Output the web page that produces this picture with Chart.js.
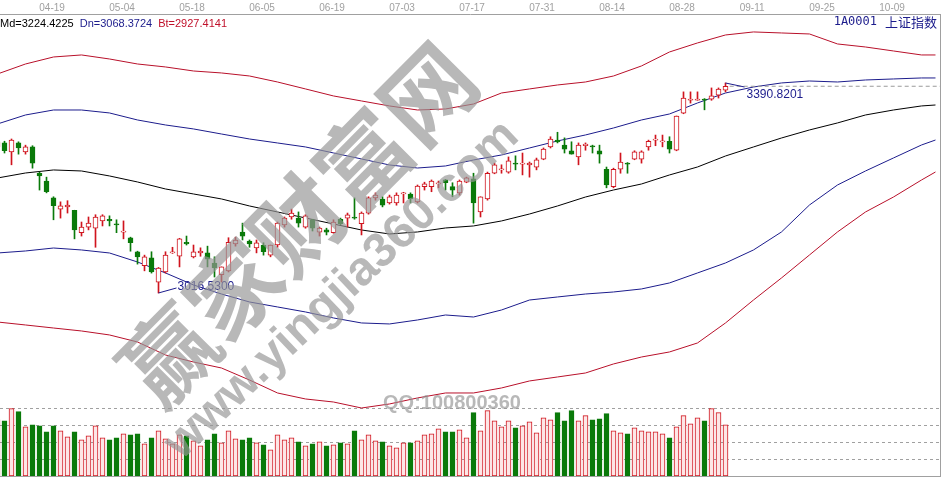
<!DOCTYPE html>
<html>
<head>
<meta charset="utf-8">
<script src="https://cdn.jsdelivr.net/npm/chart.js@4.4.0/dist/chart.umd.min.js"></script>
<style>
html, body { margin: 0; padding: 0; background: #fff; }
#wrap { width: 943px; height: 478px; }
</style>
</head>
<body>
<div id="wrap"><canvas id="kline" width="943" height="478"></canvas></div>
<script>
// 上证指数 日K线 + 通道线 + 成交量

// 顶部日期刻度
var dateLabels = ['04-19', '05-04', '05-18', '06-05', '06-19', '07-03', '07-17', '07-31', '08-14', '08-28', '09-11', '09-25', '10-09'];
var dateIdx = [8, 18, 28, 38, 48, 58, 68, 78, 88, 98, 108, 118, 128];

// K线 (开 高 低 收)
var open = [
    3277, 3284, 3268, 3284, 3268, 3277, 3230, 3216, 3186, 3166,
    3170, 3164, 3124, 3134, 3132, 3145, 3148, 3140, 3125, 3115,
    3090, 3065, 3079, 3036, 3054, 3088, 3082, 3107, 3081, 3088,
    3088, 3070, 3049, 3056, 3104, 3125, 3109, 3097, 3102, 3084,
    3102, 3138, 3152, 3150, 3134, 3147, 3125, 3129, 3124, 3148,
    3150, 3152, 3140, 3159, 3186, 3184, 3177, 3177, 3193, 3193,
    3179, 3206, 3206, 3211, 3218, 3206, 3195, 3214, 3220, 3161,
    3184, 3230, 3236, 3232, 3248, 3246, 3245, 3241, 3255, 3277,
    3289, 3280, 3270, 3259, 3279, 3279, 3270, 3237, 3206, 3237,
    3248, 3255, 3255, 3277, 3289, 3286, 3287, 3271, 3337, 3360,
    3360, 3362, 3362, 3369, 3378
];
var high = [
    3289, 3287, 3291, 3286, 3280, 3279, 3232, 3223, 3188, 3179,
    3181, 3164, 3143, 3152, 3156, 3156, 3154, 3147, 3145, 3116,
    3091, 3084, 3090, 3062, 3090, 3098, 3114, 3118, 3102, 3097,
    3100, 3081, 3063, 3115, 3116, 3141, 3111, 3111, 3106, 3102,
    3143, 3152, 3166, 3161, 3156, 3148, 3134, 3132, 3147, 3150,
    3159, 3186, 3161, 3188, 3195, 3188, 3191, 3195, 3196, 3195,
    3209, 3214, 3218, 3216, 3219, 3213, 3218, 3223, 3230, 3188,
    3232, 3248, 3245, 3259, 3261, 3266, 3250, 3257, 3275, 3295,
    3303, 3293, 3286, 3284, 3284, 3280, 3280, 3241, 3239, 3266,
    3249, 3270, 3270, 3289, 3298, 3298, 3295, 3332, 3375, 3375,
    3375, 3363, 3382, 3382, 3390.8201
];
var low = [
    3271, 3266, 3245, 3264, 3264, 3239, 3200, 3195, 3147, 3150,
    3159, 3113, 3118, 3129, 3098, 3136, 3136, 3124, 3113, 3091,
    3068, 3056, 3052, 3016.53, 3052, 3087, 3063, 3102, 3079, 3082,
    3063, 3045, 3036, 3054, 3100, 3111, 3098, 3088, 3084, 3081,
    3098, 3134, 3148, 3134, 3132, 3127, 3118, 3120, 3123, 3138,
    3134, 3148, 3120, 3157, 3182, 3170, 3175, 3173, 3177, 3177,
    3177, 3200, 3197, 3204, 3200, 3188, 3191, 3213, 3141, 3152,
    3182, 3229, 3230, 3230, 3236, 3227, 3223, 3236, 3254, 3275,
    3284, 3266, 3264, 3245, 3271, 3266, 3248, 3204, 3204, 3230,
    3230, 3254, 3248, 3271, 3279, 3277, 3266, 3270, 3336, 3355,
    3360, 3343, 3360, 3364, 3375
];
var close = [
    3286, 3270, 3289, 3275, 3277, 3248, 3225, 3197, 3172, 3172,
    3173, 3129, 3134, 3141, 3152, 3154, 3145, 3138, 3127, 3106,
    3081, 3081, 3054, 3061, 3084, 3090, 3113, 3104, 3090, 3091,
    3077, 3061, 3063, 3107, 3111, 3118, 3104, 3106, 3090, 3102,
    3141, 3150, 3159, 3141, 3154, 3132, 3132, 3125, 3143, 3140,
    3156, 3150, 3159, 3186, 3191, 3173, 3188, 3191, 3195, 3184,
    3207, 3211, 3216, 3213, 3213, 3200, 3216, 3222, 3177, 3188,
    3230, 3245, 3237, 3252, 3246, 3248, 3248, 3254, 3273, 3291,
    3286, 3273, 3264, 3280, 3282, 3277, 3264, 3209, 3237, 3250,
    3246, 3268, 3268, 3287, 3291, 3287, 3273, 3332, 3364, 3362,
    3362, 3360, 3368, 3380, 3385
];

// 成交量
var volume = [
    1680, 1650, 2010, 1920, 1470, 1530, 1500, 1320, 1500, 1350,
    1170, 1320, 1080, 1200, 1500, 1140, 1080, 1140, 1260, 1230,
    1260, 960, 1140, 1350, 1110, 960, 1230, 1200, 1050, 900,
    1080, 1260, 990, 1350, 1110, 1080, 1140, 990, 930, 780,
    1230, 1080, 1140, 1020, 900, 960, 1020, 900, 930, 990,
    960, 1350, 1080, 1230, 1050, 1020, 900, 840, 990, 990,
    1050, 1230, 1260, 1410, 1320, 1320, 1380, 1140, 1890, 1350,
    1950, 1650, 1470, 1650, 1440, 1500, 1620, 1290, 1740, 1680,
    1890, 1650, 1950, 1650, 1800, 1680, 1710, 1860, 1350, 1290,
    1260, 1440, 1350, 1320, 1320, 1260, 1140, 1470, 1800, 1560,
    1740, 1650, 2010, 1890, 1530
];
var volGrid = [500, 1000, 1500, 2000];

// 通道线 (向右延伸)
var bandX = [0, 4, 8, 12, 16, 20, 24, 28, 32, 36, 40, 44, 48, 52, 56, 60, 64, 68, 72, 76, 80, 84, 88, 92, 96, 100, 104, 108, 112, 116, 120, 124, 128, 132, 134];
var upper2 = [3406.9, 3424.7, 3437.2, 3440.8, 3433.6, 3424.7, 3419.4, 3412.2, 3408.7, 3403.3, 3392.6, 3380.2, 3367.7, 3358.8, 3349.9, 3342.7, 3344.5, 3353.4, 3373.0, 3380.2, 3387.3, 3392.6, 3403.3, 3421.2, 3446.1, 3462.2, 3476.4, 3481.8, 3480.0, 3478.2, 3460.4, 3455.0, 3447.9, 3440.8, 3440.8];
var upper1 = [3317.8, 3333.8, 3342.7, 3342.7, 3337.4, 3324.9, 3316.0, 3308.9, 3299.9, 3291.0, 3283.9, 3276.8, 3266.1, 3255.4, 3244.7, 3239.3, 3242.9, 3253.6, 3262.5, 3275.0, 3287.5, 3298.2, 3310.6, 3324.9, 3335.6, 3355.2, 3373.0, 3383.7, 3390.9, 3394.4, 3392.6, 3396.2, 3398.0, 3399.8, 3399.8];
var middle = [3221.5, 3230.4, 3235.8, 3234.0, 3225.1, 3214.4, 3201.9, 3193.0, 3184.1, 3171.6, 3160.9, 3150.2, 3139.5, 3128.8, 3121.7, 3125.3, 3132.4, 3136.0, 3144.9, 3157.3, 3171.6, 3187.6, 3200.1, 3210.8, 3226.9, 3241.1, 3260.7, 3276.8, 3292.8, 3307.1, 3319.6, 3333.8, 3342.7, 3349.9, 3351.6];
var lower1 = [3087.8, 3091.4, 3096.7, 3093.2, 3087.8, 3071.8, 3052.2, 3030.8, 3014.7, 3000.5, 2991.6, 2982.7, 2972.0, 2963.1, 2961.3, 2968.4, 2977.3, 2973.7, 2986.2, 3004.0, 3009.4, 3014.7, 3018.3, 3023.7, 3034.4, 3052.2, 3070.0, 3093.2, 3125.3, 3173.4, 3209.0, 3234.0, 3257.2, 3280.3, 3289.2];
var lower2 = [2964.8, 2959.5, 2954.1, 2948.8, 2941.7, 2929.2, 2906.0, 2893.5, 2882.8, 2861.4, 2838.3, 2827.6, 2822.2, 2811.5, 2818.7, 2829.4, 2838.3, 2838.3, 2847.2, 2859.7, 2866.8, 2873.9, 2890.0, 2902.4, 2911.4, 2927.4, 2963.1, 3004.0, 3043.3, 3084.3, 3125.3, 3160.9, 3187.6, 3217.9, 3232.2];

// 标题文字
var infoItems = [
    { text: 'Md=3224.4225', color: '#000000' },
    { text: 'Dn=3068.3724', color: '#1c1c8c' },
    { text: 'Bt=2927.4141', color: '#c0102a' }
];
var stockCode = '1A0001';
var stockName = '上证指数';

// 颜色
var RED = '#d0141e';
var GREEN = '#0a7a0a';
var NAVY = '#1c1c8c';

var isUp = close.map(function (c, k) { return c >= open[k]; });

function pts(xs, ys) {
    return xs.map(function (x, j) { return { x: x, y: ys[j] }; });
}
function idxPts(ys) {
    return ys.map(function (y, k) { return { x: k, y: y }; });
}

var lastK = close.length - 1;
var xMin = 0.357, xMax = 134.643;

// 叠加文字: 标题, 最高/最低标注
var overlayPlugin = {
    id: 'overlay',
    afterDatasetsDraw: function (chart) {
        var ctx = chart.ctx;
        var xs = chart.scales.x, ys = chart.scales.y;
        ctx.save();
        ctx.font = '11px "Liberation Sans", Arial, sans-serif';
        ctx.textBaseline = 'middle';
        ctx.textAlign = 'left';
        var tx = 0;
        infoItems.forEach(function (it) {
            ctx.fillStyle = it.color;
            ctx.fillText(it.text, tx, 24);
            tx += ctx.measureText(it.text).width + 6;
        });

        ctx.textAlign = 'right';
        ctx.fillStyle = NAVY;
        ctx.font = '13px "Noto Sans CJK SC", sans-serif';
        var nameW = ctx.measureText(stockName).width;
        ctx.fillText(stockName, 937, 22);
        ctx.font = '12px "DejaVu Sans Mono", monospace';
        ctx.fillText(stockCode, 937 - nameW - 8, 22);

        // 最低点 / 最高点
        var kMin = 0, kMax = 0;
        low.forEach(function (v, k) { if (v < low[kMin]) kMin = k; });
        high.forEach(function (v, k) { if (v > high[kMax]) kMax = k; });
        ctx.strokeStyle = NAVY;
        ctx.fillStyle = NAVY;
        ctx.lineWidth = 1;
        ctx.font = '12px "Liberation Sans", Arial, sans-serif';
        ctx.textAlign = 'left';

        var px = xs.getPixelForValue(kMin), py = ys.getPixelForValue(low[kMin]);
        ctx.beginPath();
        ctx.moveTo(px, py);
        ctx.lineTo(px + 18, py - 5);
        ctx.stroke();
        ctx.fillText(low[kMin].toFixed(4), px + 19, py - 6);

        px = xs.getPixelForValue(kMax); py = ys.getPixelForValue(high[kMax]);
        ctx.beginPath();
        ctx.moveTo(px, py);
        ctx.lineTo(px + 19, py + 4);
        ctx.stroke();
        ctx.fillText(high[kMax].toFixed(4), px + 21, py + 12);
        ctx.restore();
    },
    afterDraw: function (chart) {
        // 水印
        var ctx = chart.ctx;
        ctx.save();
        ctx.fillStyle = 'rgba(150,150,150,0.68)';
        ctx.textAlign = 'center';
        ctx.textBaseline = 'middle';

        ctx.save();
        ctx.translate(298, 224);
        ctx.rotate(-0.79);
        ctx.font = 'bold 92px "Noto Sans CJK SC", sans-serif';
        ctx.fillText('赢家财富网', 0, 0);
        ctx.restore();

        ctx.save();
        ctx.translate(342, 290);
        ctx.rotate(-0.76);
        ctx.font = 'bold 48px "Liberation Sans", Arial, sans-serif';
        ctx.fillText('www.yingjia360.com', 0, 0);
        ctx.restore();

        ctx.font = 'bold 20px "Liberation Sans", Arial, sans-serif';
        ctx.fillText('QQ:100800360', 452, 403);
        ctx.restore();
    }
};

var bandStyle = function (label, data, color) {
    return {
        type: 'line',
        label: label,
        data: pts(bandX, data),
        yAxisID: 'y',
        borderColor: color,
        borderWidth: 1,
        pointRadius: 0,
        tension: 0,
        fill: false,
        order: 4
    };
};

var klineChart = new Chart(document.getElementById('kline'), {
    type: 'bar',
    data: {
        datasets: [
            {
                label: '成交量',
                data: idxPts(volume),
                yAxisID: 'yv',
                backgroundColor: isUp.map(function (u) { return u ? '#fde6e6' : GREEN; }),
                borderColor: isUp.map(function (u) { return u ? RED : GREEN; }),
                borderWidth: 1,
                borderSkipped: false,
                barThickness: 5,
                grouped: false,
                order: 5
            },
            bandStyle('上轨2', upper2, '#b8102a'),
            bandStyle('上轨1', upper1, NAVY),
            bandStyle('中轨', middle, '#000000'),
            bandStyle('下轨1', lower1, NAVY),
            bandStyle('下轨2', lower2, '#b8102a'),
            {
                type: 'line',
                label: '现价',
                data: [{ x: lastK + 0.6, y: close[lastK] }, { x: xMax, y: close[lastK] }],
                yAxisID: 'y',
                borderColor: '#9a9a9a',
                borderWidth: 1,
                borderDash: [4, 3],
                pointRadius: 0,
                order: 3
            },
            {
                label: '影线',
                data: low.map(function (l, k) { return { x: k, y: [l, high[k]] }; }),
                yAxisID: 'y',
                backgroundColor: isUp.map(function (u) { return u ? RED : GREEN; }),
                borderWidth: 0,
                barThickness: 1,
                grouped: false,
                order: 2
            },
            {
                label: 'K线',
                data: open.map(function (o, k) { return { x: k, y: [o, close[k]] }; }),
                yAxisID: 'y',
                backgroundColor: isUp.map(function (u) { return u ? '#ffffff' : GREEN; }),
                borderColor: isUp.map(function (u) { return u ? RED : GREEN; }),
                borderWidth: 1,
                borderSkipped: false,
                barThickness: 5,
                minBarLength: 1,
                grouped: false,
                order: 1
            }
        ]
    },
    options: {
        responsive: false,
        animation: false,
        devicePixelRatio: 1,
        layout: { padding: { left: 0, right: 0, top: 0, bottom: 0 } },
        plugins: {
            legend: { display: false },
            tooltip: { enabled: false }
        },
        scales: {
            x: {
                type: 'linear',
                position: 'top',
                min: xMin,
                max: xMax,
                offset: false,
                afterBuildTicks: function (s) {
                    s.ticks = dateIdx.map(function (v) { return { value: v - 0.2 }; });
                },
                afterFit: function (s) { s.height = 14; },
                ticks: {
                    autoSkip: false,
                    maxRotation: 0,
                    padding: 0,
                    color: '#a0a0a0',
                    font: { size: 10, family: '"Liberation Sans Narrow", "Liberation Sans", Arial, sans-serif' },
                    callback: function (v, i) { return dateLabels[i]; }
                },
                grid: { display: false, drawTicks: false },
                border: { display: true, color: '#a0a0a0' }
            },
            xb: {
                type: 'linear',
                position: 'bottom',
                min: xMin,
                max: xMax,
                ticks: { display: false },
                grid: { display: false, drawTicks: false },
                border: { display: true, color: '#a0a0a0' },
                afterFit: function (s) { s.height = 2; }
            },
            y: {
                type: 'linear',
                position: 'right',
                min: 2690.3,
                max: 3513.8,
                ticks: { display: false },
                grid: { display: false, drawTicks: false },
                border: { display: true, color: '#a0a0a0' },
                afterFit: function (s) { s.width = 3; }
            },
            yv: {
                type: 'linear',
                position: 'left',
                min: 0,
                max: 13791,
                afterBuildTicks: function (s) {
                    s.ticks = volGrid.map(function (v) { return { value: v }; });
                },
                afterFit: function (s) { s.width = 0; },
                ticks: { display: false },
                grid: { color: '#a0a0a0', drawTicks: false, lineWidth: 1 },
                border: { display: false, dash: [3, 3] }
            }
        }
    },
    plugins: [overlayPlugin]
});
</script>
</body>
</html>
